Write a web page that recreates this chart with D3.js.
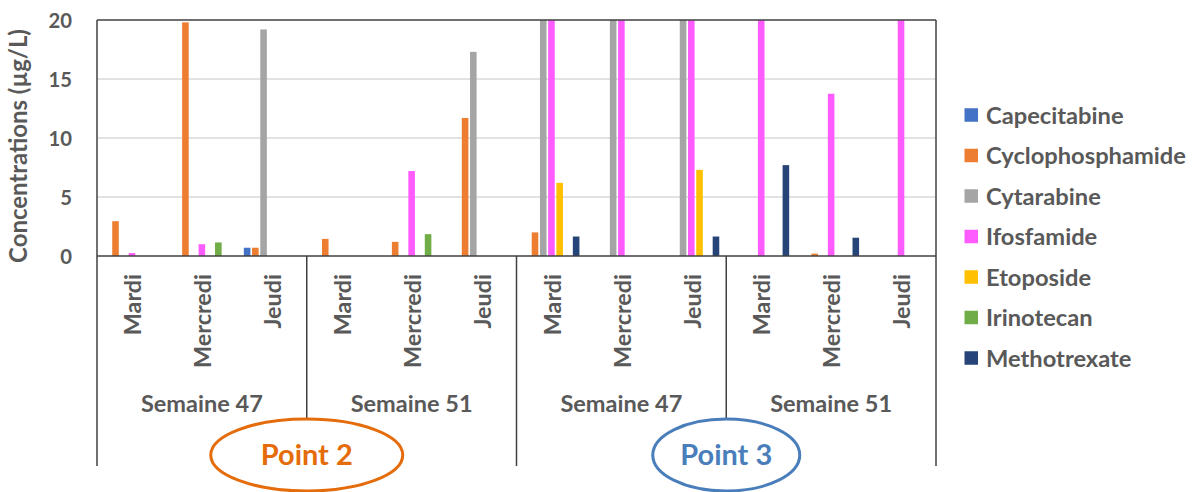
<!DOCTYPE html>
<html>
<head>
<meta charset="utf-8">
<script src="https://cdn.jsdelivr.net/npm/d3@7"></script>
<style>
	html, body { margin: 0; padding: 0; background: #fff; }
	svg { display: block; }
</style>
</head>
<body>
<div id="chart"></div>
<script>
(function (d3) {
	'use strict';

	// DATA
	const points = ["Point 2", "Point 3"];
	const weeks = ["Semaine 47", "Semaine 51"];
	const days = ["Mardi", "Mercredi", "Jeudi"];
	const series = ["Capecitabine", "Cyclophosphamide", "Cytarabine", "Ifosfamide", "Etoposide", "Irinotecan", "Methotrexate"];
	const yTicks = [0, 5, 10, 15, 20];

	// one value per slot: P2 S47 (Ma, Me, Je), P2 S51, P3 S47, P3 S51 -- 20 = off the scale
	const capecitabine     = [0, 0, 0.7,     0, 0, 0,       0, 0, 0,       0, 0, 0];
	const cyclophosphamide = [2.95, 19.8, 0.7, 1.45, 1.2, 11.7, 2.0, 0, 0,  0, 0.2, 0];
	const cytarabine       = [0, 0, 19.2,    0, 0, 17.3,    20, 20, 20,    0, 0, 0];
	const ifosfamide       = [0.25, 1.0, 0,  0, 7.2, 0,     20, 20, 20,    20, 13.75, 20];
	const etoposide        = [0, 0, 0,       0, 0, 0,       6.2, 0, 7.3,   0, 0, 0];
	const irinotecan       = [0, 1.15, 0,    0, 1.85, 0,    0, 0, 0,       0, 0, 0];
	const methotrexate     = [0, 0, 0,       0, 0, 0,       1.65, 0, 1.65, 7.7, 1.55, 0];

	const values = [capecitabine, cyclophosphamide, cytarabine, ifosfamide, etoposide, irinotecan, methotrexate];
	const colors = ["#4472C4", "#ED7D31", "#A5A5A5", "#FF5CFF", "#FFC000", "#70AD47", "#264478"];
	const pointColors = ["#E46C0A", "#4A7EBB"];

	const FONT = "Lato, 'Open Sans', sans-serif";
	const TEXT = "#595959";
	const LINE = "#404040";

	const width = 1195, height = 492;
	const margin = { top: 20, right: 259, bottom: 236, left: 97 };

	const svg = d3.select("#chart").append("svg")
		.attr("width", width)
		.attr("height", height);

	// font size so that a sample string gets a given width
	const fitSize = (sample, target) => {
		const t = svg.append("text")
			.attr("font-family", FONT).attr("font-weight", 700)
			.attr("font-size", 100).text(sample);
		const w = t.node().getComputedTextLength();
		t.remove();
		return 100 * target / w;
	};
	const fsTick = fitSize("20", 23.5);
	const fsYLabel = fitSize("Concentrations (µg/L)", 234);
	const fsDay = fitSize("Mercredi", 94);
	const fsWeek = fitSize("Semaine 47", 122);
	const fsLegend = fitSize("Cyclophosphamide", 200);
	const fsPoint = fitSize("Point 2", 92);

	// slots
	const slots = [];
	points.forEach(p => weeks.forEach(w => days.forEach(d => slots.push({ point: p, week: w, day: d }))));
	const slotKeys = slots.map((s, i) => i);

	const x0 = d3.scaleBand()
		.domain(slotKeys)
		.range([margin.left, width - margin.right]);

	const x1 = d3.scaleBand()
		.domain(series)
		.range([0, x0.bandwidth()])
		.paddingInner(0.2)
		.paddingOuter(0.85);

	const y = d3.scaleLinear()
		.domain([0, 20])
		.range([height - margin.bottom, margin.top])
		.clamp(true);

	const plotL = margin.left, plotR = width - margin.right;
	const plotT = margin.top, plotB = height - margin.bottom;

	// gridlines
	svg.append("g")
		.selectAll("line")
		.data(yTicks.filter(v => v > 0 && v < 20))
		.enter().append("line")
		.attr("x1", plotL).attr("x2", plotR)
		.attr("y1", d => y(d)).attr("y2", d => y(d))
		.attr("stroke", "#d9d9d9").attr("stroke-width", 1.5);

	// bars
	const bars = [];
	values.forEach((vals, si) => vals.forEach((v, i) => {
		if (v > 0) bars.push({ s: series[si], c: colors[si], slot: i, v: v });
	}));
	svg.append("g")
		.selectAll("rect")
		.data(bars)
		.enter().append("rect")
		.attr("x", d => x0(d.slot) + x1(d.s))
		.attr("width", x1.bandwidth())
		.attr("y", d => y(d.v))
		.attr("height", d => y(0) - y(d.v))
		.attr("fill", d => d.c);

	// y axis
	const yAxisG = svg.append("g")
		.attr("transform", `translate(${plotL - 25},0)`)
		.call(d3.axisLeft(y).tickValues(yTicks).tickSize(0).tickPadding(0).tickFormat(d3.format("d")));
	yAxisG.select(".domain").remove();
	yAxisG.selectAll("text")
		.attr("font-family", FONT).attr("font-weight", 700)
		.attr("font-size", fsTick).attr("fill", TEXT)
		.attr("dy", "0.36em");

	svg.append("text")
		.attr("transform", `translate(27,${(plotT + plotB) / 2 + 8}) rotate(-90)`)
		.attr("text-anchor", "middle")
		.attr("font-family", FONT).attr("font-weight", 700)
		.attr("font-size", fsYLabel).attr("fill", TEXT)
		.text("Concentrations (µg/L)");

	// frame and category axis lines
	const lines = svg.append("g").attr("stroke", LINE).attr("stroke-width", 1.5);
	const axisBottom = 466;
	const weekLineBottom = 440;
	lines.append("line").attr("x1", plotL).attr("x2", plotR).attr("y1", plotT).attr("y2", plotT);
	lines.append("line").attr("x1", plotL).attr("x2", plotR).attr("y1", plotB).attr("y2", plotB);
	lines.append("line").attr("x1", plotL).attr("x2", plotL).attr("y1", plotT).attr("y2", axisBottom);
	lines.append("line").attr("x1", plotR).attr("x2", plotR).attr("y1", plotT).attr("y2", axisBottom);
	lines.append("line").attr("x1", x0(6)).attr("x2", x0(6)).attr("y1", plotB).attr("y2", axisBottom);
	[3, 9].forEach(i => {
		lines.append("line").attr("x1", x0(i)).attr("x2", x0(i)).attr("y1", plotB).attr("y2", weekLineBottom);
	});

	// day labels
	svg.append("g")
		.selectAll("text")
		.data(slots)
		.enter().append("text")
		.attr("transform", (d, i) => `translate(${x0(i) + x0.bandwidth() / 2 + 0.43 * fsDay * 0.92},274) rotate(-90)`)
		.attr("text-anchor", "end")
		.attr("font-family", FONT).attr("font-weight", 700)
		.attr("font-size", fsDay).attr("fill", TEXT)
		.text(d => d.day);

	// week labels
	const weekGroups = [];
	points.forEach((p, pi) => weeks.forEach((w, wi) => weekGroups.push({ label: w, start: (pi * 2 + wi) * 3 })));
	svg.append("g")
		.selectAll("text")
		.data(weekGroups)
		.enter().append("text")
		.attr("x", d => (x0(d.start) + x0(d.start + 2) + x0.bandwidth()) / 2)
		.attr("y", 412)
		.attr("text-anchor", "middle")
		.attr("font-family", FONT).attr("font-weight", 700)
		.attr("font-size", fsWeek).attr("fill", TEXT)
		.text(d => d.label);

	// point ellipses
	const ellW = [96, 73.5];
	const pg = svg.append("g")
		.selectAll("g")
		.data(points)
		.enter().append("g")
		.attr("transform", (d, i) => `translate(${x0(i * 6 + 3)},455)`);
	pg.append("ellipse")
		.attr("rx", (d, i) => ellW[i]).attr("ry", 36)
		.attr("fill", "#fff")
		.attr("stroke", (d, i) => pointColors[i])
		.attr("stroke-width", 3);
	pg.append("text")
		.attr("y", 0.36 * fsPoint * 0.95)
		.attr("text-anchor", "middle")
		.attr("font-family", FONT).attr("font-weight", 700)
		.attr("font-size", fsPoint)
		.attr("fill", (d, i) => pointColors[i])
		.text(d => d);

	// legend
	const legend = svg.append("g")
		.selectAll("g")
		.data(series)
		.enter().append("g")
		.attr("transform", (d, i) => `translate(964.5,${115 + i * 40.5})`);
	legend.append("rect")
		.attr("x", 0).attr("y", -6.75)
		.attr("width", 13.5).attr("height", 13.5)
		.attr("fill", (d, i) => colors[i]);
	legend.append("text")
		.attr("x", 21.5)
		.attr("y", 0.36 * fsLegend)
		.attr("font-family", FONT).attr("font-weight", 700)
		.attr("font-size", fsLegend).attr("fill", TEXT)
		.text(d => d);
}(d3));
</script>
</body>
</html>
